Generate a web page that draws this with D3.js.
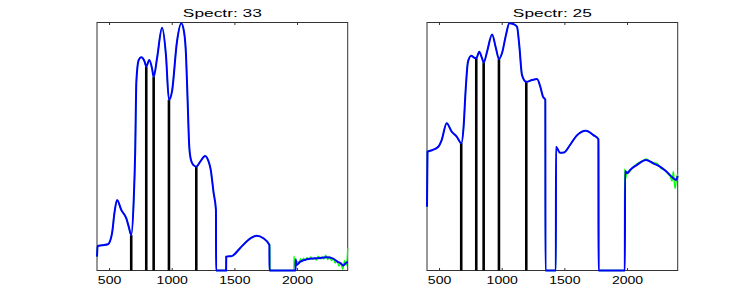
<!DOCTYPE html>
<html>
<head>
<meta charset="utf-8">
<script src="https://cdn.jsdelivr.net/npm/d3@7"></script>
<style>
  body { margin: 0; background: #fff; }
  text { font-family: "Liberation Sans", Arial, sans-serif; fill: #000; }
</style>
</head>
<body>
<svg id="chart" width="747" height="305"></svg>
<script>
// wavelength ticks shared by both panels
const tickValues = [500, 1000, 1500, 2000];
const bandStems = [673, 793, 852, 974, 1192];

// spectrum 33 (smoothed)
const wl33 = [400, 405, 440, 488, 520, 540, 560, 594, 634, 653, 673, 693, 705, 714, 733, 753, 780, 793, 817, 839, 852, 879, 919, 950, 974, 998, 1038, 1072, 1095, 1110, 1122, 1136, 1150, 1170, 1192, 1225, 1262, 1290, 1306, 1331, 1349, 1350, 1430, 1431, 1475, 1541, 1607, 1674, 1727, 1775, 1776, 1984, 1985, 1992, 2019, 2073, 2153, 2232, 2280, 2320, 2345, 2365, 2385, 2400];
const r33 = [0.056, 0.099, 0.102, 0.106, 0.150, 0.235, 0.284, 0.244, 0.210, 0.177, 0.143, 0.284, 0.486, 0.761, 0.849, 0.860, 0.842, 0.822, 0.849, 0.815, 0.781, 0.856, 0.979, 0.869, 0.688, 0.721, 0.923, 0.997, 0.960, 0.870, 0.700, 0.500, 0.445, 0.425, 0.419, 0.440, 0.462, 0.440, 0.410, 0.311, 0.244, 0, 0, 0.056, 0.058, 0.090, 0.123, 0.140, 0.130, 0.103, 0, 0, 0.045, 0.022, 0.035, 0.045, 0.049, 0.053, 0.049, 0.035, 0.029, 0.020, 0.030, 0.035];
// spectrum 33 raw tail (noisy)
const rawWl33 = [1727, 1779, 1780, 1971, 1972, 1976, 1984, 1992, 2000, 2012, 2024, 2036, 2048, 2060, 2075, 2090, 2105, 2120, 2135, 2150, 2165, 2180, 2195, 2210, 2225, 2240, 2255, 2270, 2285, 2300, 2315, 2330, 2345, 2360, 2375, 2390, 2400];
const rawR33 = [0.130, 0.103, 0, 0, 0.058, 0.030, 0.018, 0.030, 0.036, 0.030, 0.048, 0.036, 0.050, 0.040, 0.052, 0.044, 0.055, 0.046, 0.052, 0.042, 0.058, 0.047, 0.055, 0.046, 0.062, 0.044, 0.056, 0.040, 0.048, 0.030, 0.040, 0.018, 0.030, 0.005, 0.040, 0.020, 0.090];

// spectrum 25 (smoothed)
const wl25 = [400, 404, 440, 490, 517, 557, 597, 637, 674, 693, 706, 727, 753, 777, 793, 817, 839, 852, 879, 919, 950, 974, 998, 1030, 1057, 1092, 1118, 1136, 1158, 1192, 1238, 1278, 1304, 1325, 1344, 1345, 1428, 1429, 1461, 1493, 1541, 1594, 1668, 1727, 1767, 1768, 1979, 1980, 1998, 2019, 2073, 2147, 2205, 2259, 2312, 2365, 2386, 2400];
const r25 = [0.257, 0.479, 0.485, 0.499, 0.526, 0.594, 0.560, 0.540, 0.513, 0.587, 0.708, 0.842, 0.866, 0.858, 0.856, 0.882, 0.856, 0.838, 0.882, 0.952, 0.896, 0.853, 0.876, 0.950, 0.997, 0.993, 0.983, 0.909, 0.788, 0.761, 0.768, 0.772, 0.741, 0.701, 0.688, 0, 0, 0.499, 0.475, 0.476, 0.506, 0.544, 0.564, 0.546, 0.529, 0, 0, 0.401, 0.392, 0.405, 0.425, 0.446, 0.432, 0.419, 0.398, 0.372, 0.365, 0.381];
// spectrum 25 raw tail (noisy)
const rawWl25 = [1727, 1772, 1773, 1975, 1976, 1985, 1995, 2010, 2040, 2075, 2110, 2150, 2180, 2210, 2240, 2270, 2300, 2320, 2340, 2355, 2365, 2372, 2380, 2390, 2400];
const rawR25 = [0.546, 0.529, 0, 0, 0.410, 0.370, 0.400, 0.395, 0.415, 0.430, 0.440, 0.450, 0.440, 0.435, 0.430, 0.410, 0.405, 0.390, 0.380, 0.360, 0.400, 0.360, 0.330, 0.370, 0.390];

const panels = [
  { title: "Spectr: 33", left: 97, wl: wl33, r: r33, rawWl: rawWl33, rawR: rawR33 },
  { title: "Spectr: 25", left: 427, wl: wl25, r: r25, rawWl: rawWl25, rawR: rawR25 }
];

const svg = d3.select("#chart");
const W = 250.7, plotTop = 22.5, plotBottom = 270.5;

panels.forEach(p => {
  const x = d3.scaleLinear().domain([400, 2400]).range([p.left, p.left + W]);
  const y = d3.scaleLinear().domain([0, 1]).range([plotBottom, plotTop]);
  const g = svg.append("g");

  // axes box
  g.append("rect")
    .attr("x", x(400)).attr("y", plotTop)
    .attr("width", W).attr("height", plotBottom - plotTop)
    .attr("fill", "none").attr("stroke", "#333").attr("stroke-width", 1);

  // ticks inside, top and bottom
  g.selectAll(".tb").data(tickValues).enter().append("line")
    .attr("x1", d => x(d)).attr("x2", d => x(d))
    .attr("y1", plotBottom).attr("y2", plotBottom - 2.5)
    .attr("stroke", "#333");
  g.selectAll(".tt").data(tickValues).enter().append("line")
    .attr("x1", d => x(d)).attr("x2", d => x(d))
    .attr("y1", plotTop).attr("y2", plotTop + 2.5)
    .attr("stroke", "#333");

  g.selectAll(".tl").data(tickValues).enter().append("text")
    .attr("x", d => x(d)).attr("y", 284)
    .attr("text-anchor", "middle")
    .attr("font-size", 11.5)
    .attr("textLength", d => String(d).length * 7.8)
    .attr("lengthAdjust", "spacingAndGlyphs")
    .text(d => d);

  g.append("text")
    .attr("x", x(1400)).attr("y", 16.5)
    .attr("text-anchor", "middle")
    .attr("font-size", 11.5)
    .attr("textLength", 79)
    .attr("lengthAdjust", "spacingAndGlyphs")
    .text(p.title);

  // value of smoothed spectrum at a band position
  const valueAt = d3.scaleLinear().domain(p.wl).range(p.r);

  // band stems
  g.selectAll(".stem").data(bandStems).enter().append("line")
    .attr("x1", d => x(d)).attr("x2", d => x(d))
    .attr("y1", y(0)).attr("y2", d => y(valueAt(d)))
    .attr("stroke", "#000").attr("stroke-width", 2.6);

  const line = d3.line()
    .x(d => x(d[0])).y(d => y(d[1]))
    .curve(d3.curveMonotoneX);

  const smooth = p.wl.map((w, i) => [w, p.r[i]]);
  const raw = smooth.filter(d => d[0] < p.rawWl[0])
    .concat(p.rawWl.map((w, i) => [w, p.rawR[i]]));

  g.append("path").datum(raw)
    .attr("d", line)
    .attr("fill", "none").attr("stroke", "#00ff00").attr("stroke-width", 1.3);

  g.append("path").datum(smooth)
    .attr("d", line)
    .attr("fill", "none").attr("stroke", "#0000ff").attr("stroke-width", 2);
});
</script>
</body>
</html>
